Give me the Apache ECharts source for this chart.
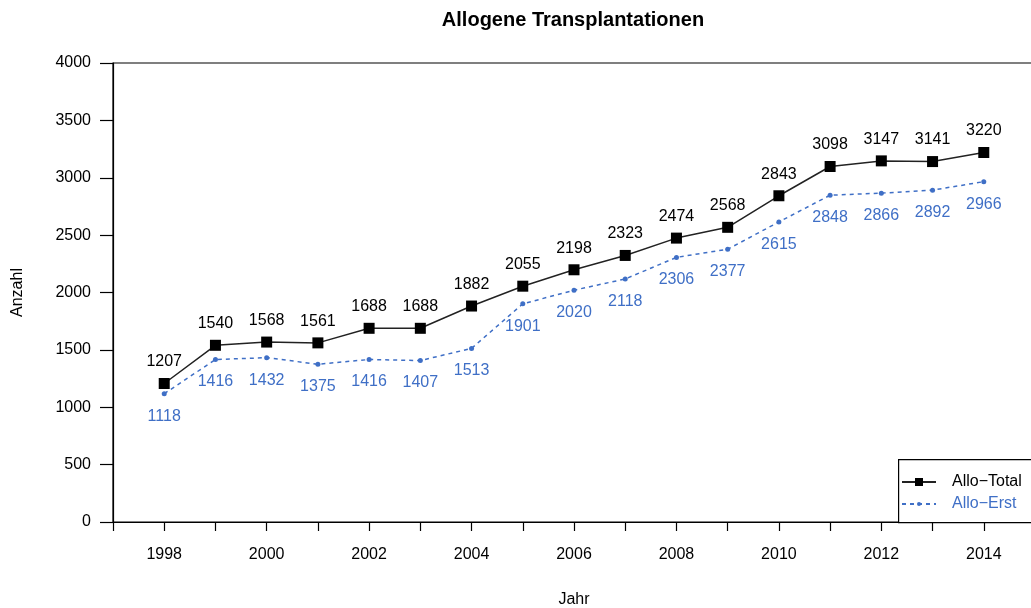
<!DOCTYPE html>
<html>
<head>
<meta charset="utf-8">
<script src="https://cdn.jsdelivr.net/npm/echarts@6/dist/echarts.min.js"></script>
<style>
html, body { margin: 0; padding: 0; background: #fff; }
#chart { width: 1031px; height: 608px; }
</style>
</head>
<body>
<div id="chart"></div>
<script>
var years = [1998, 1999, 2000, 2001, 2002, 2003, 2004, 2005, 2006, 2007, 2008, 2009, 2010, 2011, 2012, 2013, 2014];
var alloTotal = [1207, 1540, 1568, 1561, 1688, 1688, 1882, 2055, 2198, 2323, 2474, 2568, 2843, 3098, 3147, 3141, 3220];
var alloErst = [1118, 1416, 1432, 1375, 1416, 1407, 1513, 1901, 2020, 2118, 2306, 2377, 2615, 2848, 2866, 2892, 2966];

var font = 'Liberation Sans, Arial, sans-serif';
var blue = '#3f6fc6';

function pairs(vals) {
    return years.map(function (y, i) { return [y, vals[i]]; });
}

var myChart = echarts.init(document.getElementById('chart'));
myChart.setOption({
    backgroundColor: '#fff',
    animation: false,
    textStyle: { fontFamily: font },
    title: {
        text: 'Allogene Transplantationen',
        left: 573,
        top: 10,
        padding: 0,
        textAlign: 'center',
        textStyle: { fontFamily: font, fontSize: 20, fontWeight: 'bold', color: '#000' }
    },
    grid: {
        left: 113,
        right: -4,
        top: 63,
        bottom: 86,
        outerBoundsMode: 'none',
        containLabel: false,
        show: true,
        borderColor: '#000',
        borderWidth: 1.2
    },
    // legend frame, open to the right like the reference
    graphic: [{
        type: 'rect',
        left: 898,
        top: 459,
        shape: { width: 200, height: 63 },
        style: { fill: '#fff', stroke: '#000', lineWidth: 1.2 },
        z: 10
    }],
    legend: [{
        orient: 'vertical',
        left: 901,
        top: 474,
        padding: 0,
        itemWidth: 34,
        itemHeight: 10,
        data: [{ name: 'Allo−Total', textStyle: { color: '#000' } }],
        textStyle: { fontFamily: font, fontSize: 16, padding: [0, 0, 0, 11] },
        z: 11
    }, {
        orient: 'vertical',
        left: 901,
        top: 496,
        padding: 0,
        itemWidth: 34,
        itemHeight: 5,
        data: [{ name: 'Allo−Erst', textStyle: { color: blue } }],
        textStyle: { fontFamily: font, fontSize: 16, padding: [0, 0, 0, 11] },
        z: 11
    }],
    xAxis: {
        type: 'value',
        min: 1997,
        max: 2015,
        interval: 1,
        name: 'Jahr',
        nameLocation: 'middle',
        nameGap: 70,
        nameTextStyle: { fontFamily: font, fontSize: 16, color: '#000' },
        splitLine: { show: false },
        axisLine: { show: true, lineStyle: { color: '#000', width: 1.2 } },
        axisTick: { show: true, length: 9, lineStyle: { color: '#000', width: 1.2 } },
        axisLabel: {
            margin: 25,
            fontSize: 16,
            color: '#000',
            formatter: function (v) {
                return (v % 2 === 0 && v >= 1998 && v <= 2014) ? String(v) : '';
            }
        }
    },
    yAxis: {
        type: 'value',
        min: 0,
        max: 4000,
        interval: 500,
        name: 'Anzahl',
        nameLocation: 'middle',
        nameGap: 87,
        nameRotate: 90,
        nameTextStyle: { fontFamily: font, fontSize: 16, color: '#000' },
        splitLine: { show: false },
        axisLine: { show: true, lineStyle: { color: '#000', width: 1.2 } },
        axisTick: { show: true, length: 13, lineStyle: { color: '#000', width: 1.2 } },
        axisLabel: {
            margin: 22,
            fontSize: 16,
            color: '#000',
            formatter: function (v) { return String(v); }
        }
    },
    series: [{
        name: 'Allo−Total',
        type: 'line',
        data: pairs(alloTotal),
        symbol: 'rect',
        symbolSize: 11,
        itemStyle: { color: '#000' },
        lineStyle: { color: '#222', width: 1.5 },
        label: {
            show: true,
            position: 'top',
            distance: 8,
            color: '#000',
            fontSize: 16,
            fontFamily: font
        },
        z: 3
    }, {
        name: 'Allo−Erst',
        type: 'line',
        data: pairs(alloErst),
        symbol: 'circle',
        symbolSize: 5,
        itemStyle: { color: blue },
        lineStyle: { color: blue, width: 1.5, type: [4, 4] },
        label: {
            show: true,
            position: 'bottom',
            distance: 12,
            color: blue,
            fontSize: 16,
            fontFamily: font
        },
        z: 2
    }]
});
</script>
</body>
</html>
